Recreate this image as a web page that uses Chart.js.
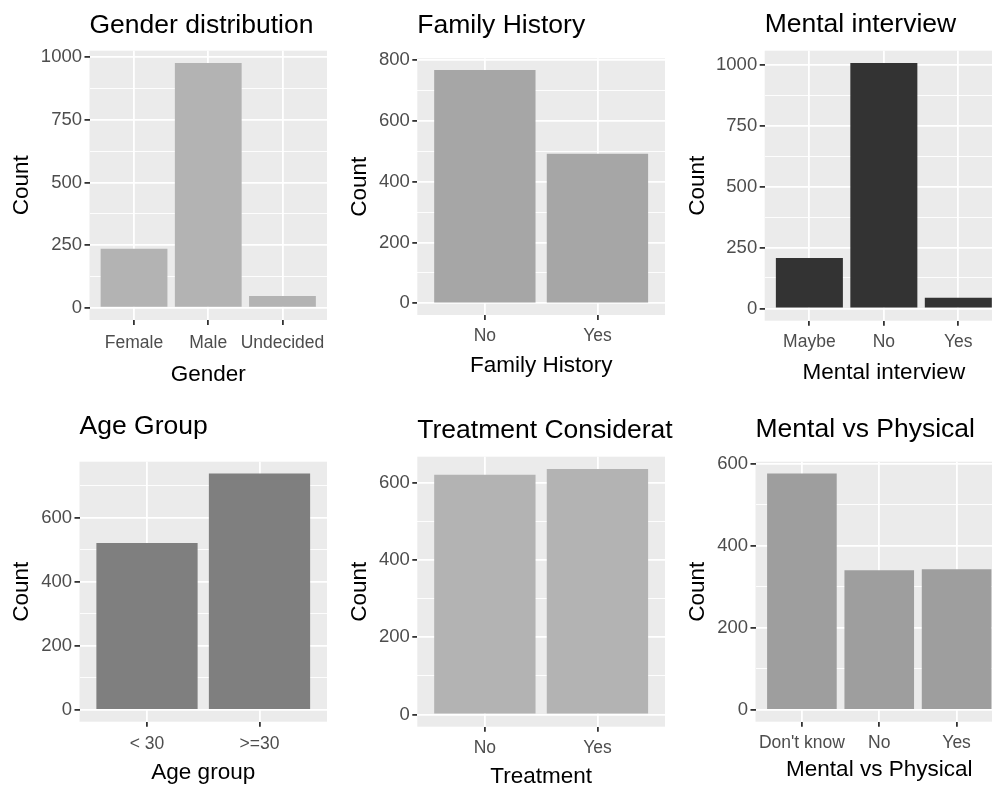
<!DOCTYPE html>
<html><head><meta charset="utf-8">
<script src="https://cdn.jsdelivr.net/npm/chart.js@4.4.1/dist/chart.umd.min.js"></script>
<style>
html,body{margin:0;padding:0;background:#fff;width:992px;height:791px;overflow:hidden;position:relative}
canvas{position:absolute}
</style></head><body>
<canvas id="c1"></canvas><canvas id="c2"></canvas><canvas id="c3"></canvas>
<canvas id="c4"></canvas><canvas id="c5"></canvas><canvas id="c6"></canvas>
<script>
const genderLabels = ['Female', 'Male', 'Undecided'];
const genderCounts = [235, 977, 47];
const genderTicks = [0, 250, 500, 750, 1000];

const familyLabels = ['No', 'Yes'];
const familyCounts = [767, 492];
const familyTicks = [0, 200, 400, 600, 800];

const interviewLabels = ['Maybe', 'No', 'Yes'];
const interviewCounts = [207, 1008, 44];
const interviewTicks = [0, 250, 500, 750, 1000];

const ageLabels = ['< 30', '>=30'];
const ageCounts = [521, 738];
const ageTicks = [0, 200, 400, 600];

const treatmentLabels = ['No', 'Yes'];
const treatmentCounts = [622, 637];
const treatmentTicks = [0, 200, 400, 600];

const mvpLabels = ["Don't know", 'No', 'Yes'];
const mvpCounts = [576, 340, 343];
const mvpTicks = [0, 200, 400, 600];

const F = "'Liberation Sans', Arial, Helvetica, sans-serif";
const W = 338;

const panels = [
  {id:'c1', title:'Gender distribution', xTitle:'Gender', labels:genderLabels, values:genderCounts, ticks:genderTicks, color:'#B3B3B3',
   x:0, y:0, h:396, L:89.5, R:327, T:50.7, B:320, titleBase:33, xlabBase:349.5, xtitleBase:383},
  {id:'c2', title:'Family History', xTitle:'Family History', labels:familyLabels, values:familyCounts, ticks:familyTicks, color:'#A6A6A6',
   x:338, y:0, h:396, L:79.3, R:327, T:58.3, B:315, titleBase:33, xlabBase:342, xtitleBase:373.5},
  {id:'c3', title:'Mental interview', xTitle:'Mental interview', labels:interviewLabels, values:interviewCounts, ticks:interviewTicks, color:'#333333',
   x:676, y:0, h:396, L:88.7, R:327, T:50.7, B:320.7, titleBase:31.7, xlabBase:348.5, xtitleBase:381},
  {id:'c4', title:'Age Group', xTitle:'Age group', labels:ageLabels, values:ageCounts, ticks:ageTicks, color:'#7F7F7F',
   x:0, y:396, h:395, L:79.5, R:327, T:65.7, B:325.7, titleBase:38.3, xlabBase:354.5, xtitleBase:385},
  {id:'c5', title:'Treatment Considerat', xTitle:'Treatment', labels:treatmentLabels, values:treatmentCounts, ticks:treatmentTicks, color:'#B3B3B3',
   x:338, y:396, h:395, L:79.3, R:327, T:60.7, B:330.7, titleBase:42.3, xlabBase:358.5, xtitleBase:388.3},
  {id:'c6', title:'Mental vs Physical', xTitle:'Mental vs Physical', labels:mvpLabels, values:mvpCounts, ticks:mvpTicks, color:'#9E9E9E',
   x:676, y:396, h:395, L:79.5, R:327, T:65.7, B:325.7, titleBase:41, xlabBase:352.8, xtitleBase:381.7}
];

const ggPlugin = {
  id: 'gg',
  beforeDraw(c) {
    const a = c.chartArea, ctx = c.ctx;
    ctx.save();
    ctx.fillStyle = '#EBEBEB';
    ctx.fillRect(a.left, a.top, a.right - a.left, a.bottom - a.top);
    ctx.restore();
  },
  afterDraw(c, args, opts) {
    const ctx = c.ctx;
    ctx.save();
    ctx.font = '26.5px ' + F;
    ctx.fillStyle = '#000000';
    ctx.textAlign = 'left';
    ctx.textBaseline = 'alphabetic';
    ctx.fillText(opts.text, c.chartArea.left, opts.base);
    ctx.restore();
  }
};

function makeChart(p) {
  const cv = document.getElementById(p.id);
  cv.width = W; cv.height = p.h;
  cv.style.left = p.x + 'px'; cv.style.top = p.y + 'px';
  cv.style.width = W + 'px'; cv.style.height = p.h + 'px';
  const M = Math.max(...p.values);
  const ymin = -0.05 * M, ymax = 1.05 * M;
  const step = p.ticks[1] - p.ticks[0];
  const all = [];
  for (let v = p.ticks[0] - step / 2; v <= ymax; v += step / 2) if (v >= ymin) all.push(v);
  const majors = new Set(p.ticks);
  const n = p.labels.length;
  const xFont = 17.5, yFont = 18.5, axFont = 22.5, tl = 5;
  const xPad = p.xlabBase - p.B - tl - 0.6 * xFont - 0.35 * xFont;
  const xTitlePadBottom = p.h - (p.xtitleBase - 0.35 * axFont) - 0.6 * axFont;
  new Chart(cv, {
    type: 'bar',
    data: { datasets: [{
      data: p.values.map((v, i) => ({ x: i, y: v })),
      backgroundColor: p.color, borderWidth: 0,
      barPercentage: 0.9, categoryPercentage: 1
    }]},
    options: {
      responsive: false, animation: false, devicePixelRatio: 1,
      layout: { padding: { left: 0, right: W - p.R, top: p.T, bottom: 0 } },
      plugins: { legend: { display: false }, tooltip: { enabled: false }, title: { display: false },
        gg: { text: p.title, base: p.titleBase } },
      scales: {
        x: {
          type: 'linear', min: -0.6, max: n - 0.4, offset: false,
          afterBuildTicks: s => { s.ticks = p.labels.map((_, i) => ({ value: i })); },
          afterFit: s => { s.height = p.h - p.B; s.paddingLeft = 0; s.paddingRight = 0; },
          ticks: { autoSkip: false, maxRotation: 0, minRotation: 0, padding: xPad, color: '#4D4D4D',
            font: { family: F, size: xFont }, callback: (v, i) => p.labels[i] },
          grid: { offset: false, color: '#FFFFFF', lineWidth: 1.8, tickColor: '#333333', tickWidth: 1.8, tickLength: tl },
          border: { display: false },
          title: { display: true, text: p.xTitle, color: '#000000', font: { family: F, size: axFont },
            padding: { top: 0, bottom: xTitlePadBottom } }
        },
        y: {
          type: 'linear', min: ymin, max: ymax,
          afterBuildTicks: s => { s.ticks = all.map(v => ({ value: v })); },
          afterFit: s => { s.width = p.L; s.paddingTop = 0; s.paddingBottom = 0; },
          ticks: { padding: 2.5, color: '#4D4D4D', font: { family: F, size: yFont },
            callback: v => majors.has(v) ? String(v) : '' },
          grid: { offset: false, color: '#FFFFFF',
            lineWidth: c => (c.tick && majors.has(c.tick.value)) ? 1.8 : 0.9,
            tickColor: c => (c.tick && majors.has(c.tick.value)) ? '#333333' : 'rgba(0,0,0,0)',
            tickWidth: 1.8, tickLength: tl },
          border: { display: false },
          title: { display: true, text: 'Count', color: '#000000', font: { family: F, size: axFont },
            padding: { top: 8.2, bottom: 0 } }
        }
      }
    },
    plugins: [ggPlugin]
  });
}
panels.forEach(makeChart);
</script>
</body></html>
